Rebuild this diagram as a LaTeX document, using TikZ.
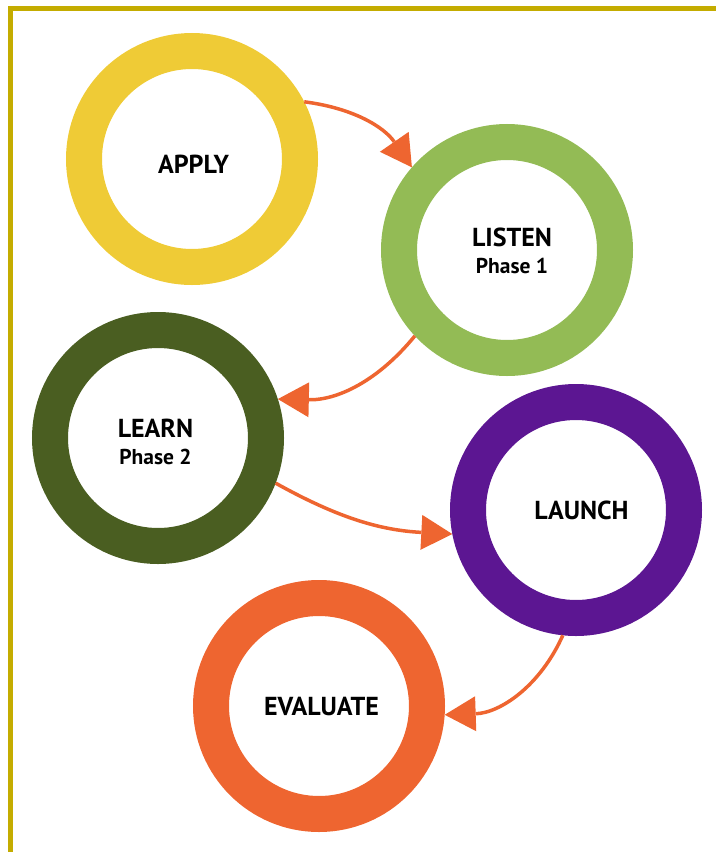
\documentclass[tikz,border=0pt]{standalone}
\usepackage{fontspec}
\setmainfont{PT Sans}
\usetikzlibrary{arrows.meta,positioning}

\definecolor{applyyellow}{HTML}{EFCB36}
\definecolor{listengreen}{HTML}{93BB55}
\definecolor{learngreen}{HTML}{4A5E21}
\definecolor{launchpurple}{HTML}{5C1692}
\definecolor{evalorange}{HTML}{EE6530}
\definecolor{frameolive}{HTML}{C4AC00}

\newcommand{\phasefont}{\fontsize{21.5}{27}\selectfont}

\begin{document}
\begin{tikzpicture}
	[x=1pt,y=-1pt,
	ring node/.style={shape=circle,draw=#1,line width=36pt,minimum size=216pt,
		inner sep=0pt,outer sep=18pt},
	every label/.style={align=center,font=\fontsize{26}{27}\selectfont\bfseries},
	step arrow/.style={-{Triangle[length=31pt,width=35pt,line width=0pt,fill=evalorange]}}]
	\useasboundingbox (0,0) rectangle (716,852);
	
	% frame on top and left
	\draw[frameolive,line width=5pt] (10.5,852) -- (10.5,8) -- (716,8);
	
	\node [ring node=applyyellow,label={[xshift=1.5pt,yshift=-5pt]center:APPLY}] (apply) at (192,159) {};
	\node [ring node=listengreen,label={[xshift=5pt,yshift=-1pt]center:LISTEN\\{\phasefont Phase 1}}] (listen) at (507,250) {};
	\node [ring node=learngreen,label={[xshift=-2.5pt,yshift=-4pt]center:LEARN\\{\phasefont Phase 2}}] (learn) at (158,438) {};
	\node [ring node=launchpurple,label={[xshift=5.5pt]center:LAUNCH}] (launch) at (576,510) {};
	\node [ring node=evalorange,label={[xshift=2.5pt]center:EVALUATE}] (evaluate) at (319,706) {};
	
	\path[draw=evalorange,line width=3.5pt]
	(apply.27) edge[step arrow,bend left=24] (listen.139)
	(listen.223) edge[step arrow,bend left=26] (learn.18)
	(learn.-21) edge[step arrow,bend right=13] (launch.191)
	(launch.264) edge[step arrow,bend left=32] (evaluate.-4)
	;
	
\end{tikzpicture}
\end{document}
